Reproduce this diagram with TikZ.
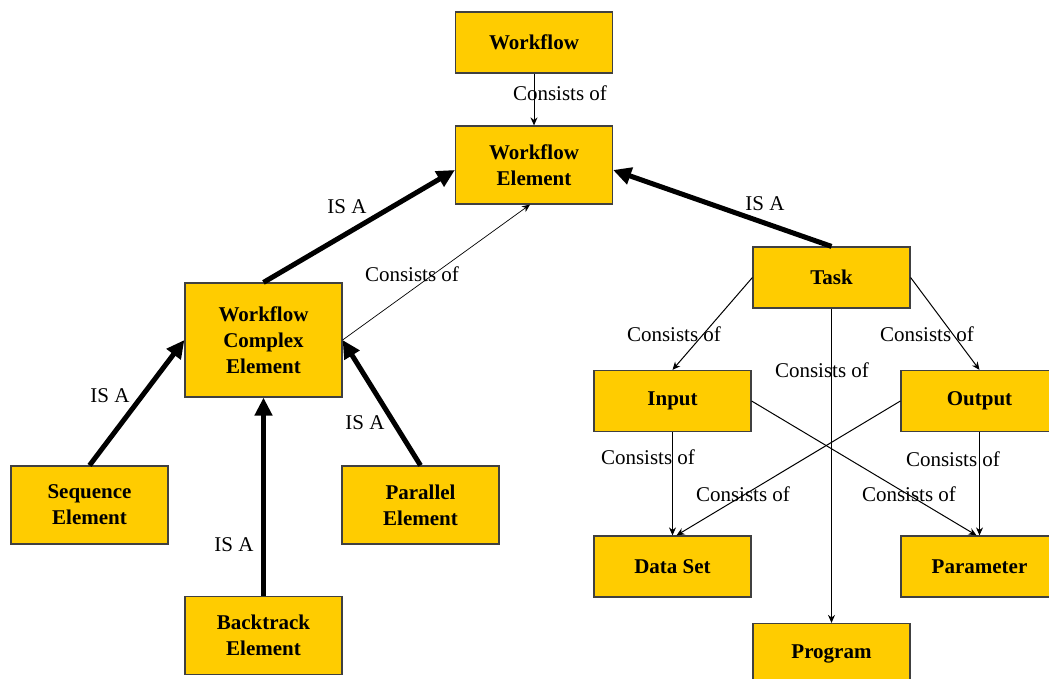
\documentclass[tikz,border=0pt]{standalone}
\usepackage{fontspec}
\setmainfont{Liberation Serif}
\usetikzlibrary{arrows.meta}
\definecolor{boxfill}{RGB}{255,204,0}
\begin{document}
\begin{tikzpicture}[x=1pt,y=-1pt,
  box/.style={draw=black!75,line width=1.2pt,fill=boxfill,minimum width=157pt,
    minimum height=61pt,inner sep=0pt,align=center,
    font=\fontsize{21}{26}\selectfont\bfseries},
  tallbox/.style={box,minimum height=78pt},
  isa/.style={line width=5pt,-{Triangle[length=18pt,width=17pt]}},
  cons/.style={line width=1pt,-{Stealth[length=8pt,width=7pt]}},
  lbl/.style={font=\fontsize{21}{26}\selectfont,inner sep=0pt}]
\useasboundingbox (0,0) rectangle (1049,679);

% nodes
\node[box]      (wf)   at (534,42.5)   {Workflow};
\node[tallbox]  (we)   at (534,165)    {Workflow\\Element};
\node[box,minimum height=114pt] (wce) at (263.5,340) {Workflow\\Complex\\Element};
\node[tallbox]  (seq)  at (89.5,505)   {Sequence\\Element};
\node[tallbox]  (par)  at (420.5,505)  {Parallel\\Element};
\node[tallbox]  (bt)   at (263.5,635.5){Backtrack\\Element};
\node[box]      (task) at (831.5,277.5){Task};
\node[box]      (inp)  at (672.5,401)  {Input};
\node[box]      (out)  at (979.5,401)  {Output};
\node[box]      (ds)   at (672.5,566.5){Data Set};
\node[box]      (prm)  at (979.5,566.5){Parameter};
\node[box]      (prog) at (831.5,654)  {Program};

% IS A links
\draw[isa] (wce.north) -- ([yshift=-5pt]we.west);
\draw[isa] (task.north) -- ([yshift=-5pt]we.east);
\draw[isa] (seq.north) -- (wce.west);
\draw[isa] (par.north) -- (wce.east);
\draw[isa] (bt.north) -- (wce.south);

% Consists of links
\draw[cons] (wf.south) -- (we.north);
\draw[cons,line width=0.7pt] (wce.east) -- ([xshift=-4pt]we.south);
\draw[cons] (task.west) -- (inp.north);
\draw[cons] (task.east) -- (out.north);
\draw[cons] (task.south) -- (prog.north);
\draw[cons] (inp.south) -- (ds.north);
\draw[cons] (out.south) -- (prm.north);
\draw[cons] (inp.east) -- ([xshift=-3pt]prm.north);
\draw[cons] (out.west) -- ([xshift=4pt]ds.north);

% labels
\node[lbl] (l1)  at (560,93)  {Consists of};
\node[lbl] (l2)  at (347,207) {IS A};
\node[lbl] (l3)  at (412,274) {Consists of};
\node[lbl] (l4)  at (765,204) {IS A};
\node[lbl] (l5)  at (110,396) {IS A};
\node[lbl] (l6)  at (365,423) {IS A};
\node[lbl] (l7)  at (234,545) {IS A};
\node[lbl] (l8)  at (674,334) {Consists of};
\node[lbl] (l9)  at (927,334) {Consists of};
\node[lbl] (l10) at (822,370) {Consists of};
\node[lbl] (l11) at (648,457) {Consists of};
\node[lbl] (l12) at (953,459) {Consists of};
\node[lbl] (l13) at (743,494) {Consists of};
\node[lbl] (l14) at (909,494) {Consists of};
\end{tikzpicture}
\end{document}
